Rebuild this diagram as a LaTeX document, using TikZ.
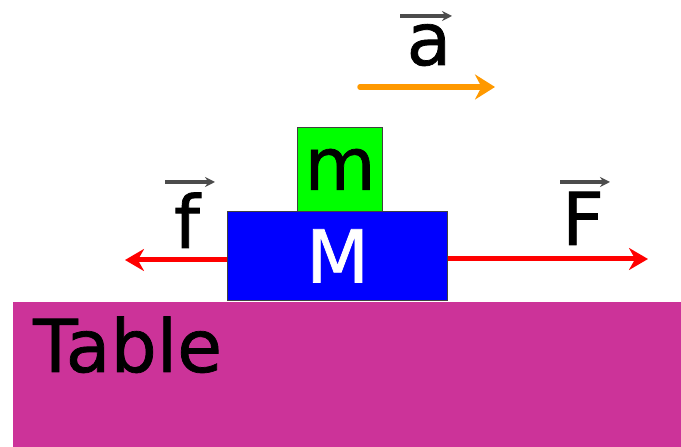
\documentclass[tikz,border=0pt]{standalone}
\usepackage{fontspec}
\setmainfont{DejaVu Sans}[FakeBold=1]
\usetikzlibrary{arrows.meta,positioning,calc}
\definecolor{tablepink}{RGB}{204,51,153}
\definecolor{accorange}{RGB}{255,153,0}
\tikzset{
  bigtext/.style={font=\fontsize{73}{80}\selectfont,inner sep=0pt},
  block/.style={draw=black!75,line width=1.2pt,inner sep=0pt,anchor=south west,bigtext},
  force/.style={red,line width=5pt,-{Stealth[length=19pt,width=22pt]}},
  accel/.style={accorange,line width=5.5pt,line cap=round,-{Stealth[length=20pt,width=25pt]}},
  overvec/.style={black!70,line width=3.5pt,-{Stealth[length=10pt,width=10pt]}},
}
\begin{document}
\begin{tikzpicture}[x=1pt,y=1pt]
    \useasboundingbox (0,0) rectangle (681,447);
    % the table
    \node [fill=tablepink,inner sep=0pt,minimum width=668.3pt,minimum height=145pt,anchor=south west] (table) at (12.7,0) {};
    \node [bigtext,anchor=base west] (tablelbl) at (33,75) {Table};
    % the two blocks
    \node [block,fill=blue,text=white,minimum width=220pt,minimum height=89pt] (M) at (227,146) {M};
    \node [block,fill=green,minimum width=85pt,minimum height=84pt] (m) at (297,235) {m};
    % forces
    \coordinate (fend) at (125,187);
    \coordinate (Fend) at (648,188);
    \draw [force] (M.west |- fend) -- (fend);
    \draw [force] (M.east |- Fend) -- (Fend);
    \node [bigtext,anchor=base] (flbl) at (187,199) {f};
    \node [bigtext,anchor=base] (Flbl) at (583,202) {F};
    \draw [overvec] ($(flbl.base)+(-22,66)$) -- ++(50,0);
    \draw [overvec] ($(Flbl.base)+(-23,63)$) -- ++(50,0);
    % acceleration
    \coordinate (astart) at (360,360);
    \coordinate (aend) at (495,360);
    \draw [accel] (astart) -- (aend);
    \node [bigtext,anchor=base] (albl) at (429,382) {a};
    \draw [overvec] ($(albl.base)+(-29,49)$) -- ++(52,0);
\end{tikzpicture}
\end{document}
